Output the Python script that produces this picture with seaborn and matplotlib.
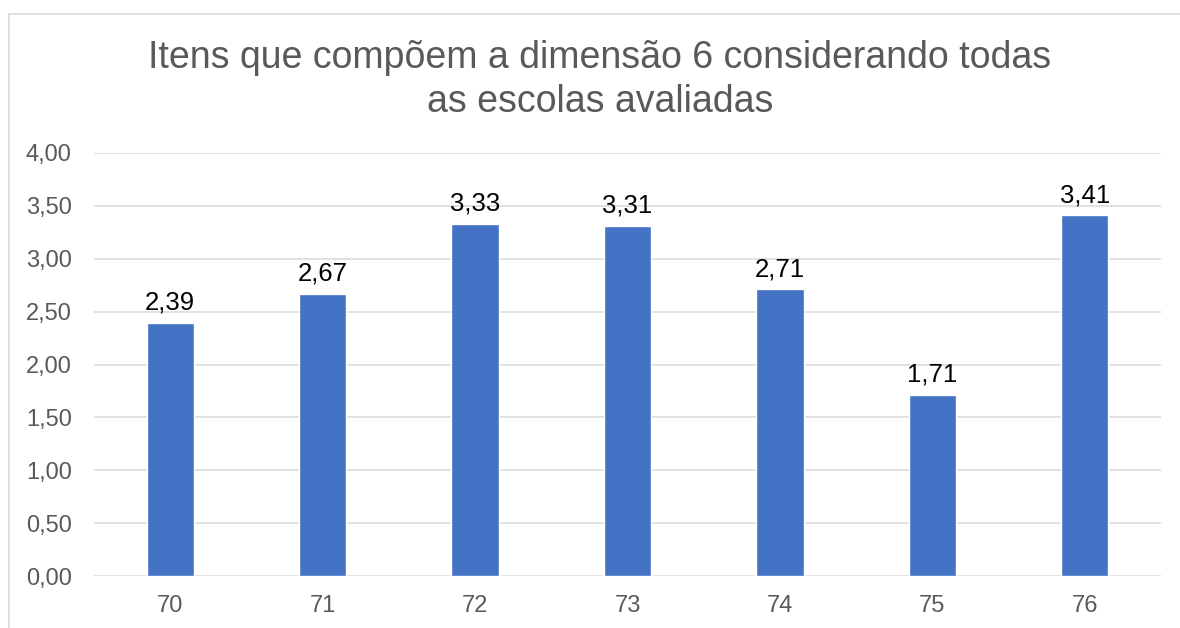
import matplotlib
matplotlib.use("Agg")
import matplotlib.pyplot as plt
from matplotlib.patches import Rectangle
from matplotlib.ticker import FuncFormatter
import seaborn as sns

# Average score per item of dimension 6
itens = ["70", "71", "72", "73", "74", "75", "76"]
medias = [2.39, 2.67, 3.33, 3.31, 2.71, 1.71, 3.41]
y_ticks = [0.0, 0.5, 1.0, 1.5, 2.0, 2.5, 3.0, 3.5, 4.0]

titulo = "Itens que compõem a dimensão 6 considerando todas\nas escolas avaliadas"

sns.set_theme(style="white")
plt.rcParams["font.family"] = ["Liberation Sans", "DejaVu Sans"]

BAR = "#4472C4"
GRID = "#D9D9D9"
TXT = "#595959"

fig = plt.figure(figsize=(11.8, 6.28), dpi=100)
fig.patch.set_facecolor("white")
ax = fig.add_axes([94 / 1180, 1 - 576 / 628, (1161 - 94) / 1180, (576 - 153) / 628])

sns.barplot(x=itens, y=medias, color=BAR, saturation=1, width=0.31, ax=ax)

ax.set_ylim(0, 4)
ax.set_yticks(y_ticks)
ax.yaxis.set_major_formatter(FuncFormatter(lambda v, _: f"{v:.2f}".replace(".", ",")))
ax.set_xlim(-0.5, len(itens) - 0.5)
ax.grid(axis="y", color=GRID, linewidth=1.1)
ax.grid(axis="x", visible=False)
ax.set_axisbelow(True)
for s in ax.spines.values():
    s.set_visible(False)
ax.tick_params(axis="y", length=0, pad=16, labelsize=17, labelcolor=TXT)
ax.tick_params(axis="x", length=0, pad=14, labelsize=17, labelcolor=TXT)
ax.set_xlabel("")
ax.set_ylabel("")

rotulos = [f"{v:.2f}".replace(".", ",") for v in medias]
ax.bar_label(ax.containers[0], labels=rotulos, padding=6, fontsize=18.5, color="black")

fig.text(600 / 1180, 1 - 80 / 628, titulo, ha="center", va="center",
         fontsize=27, color=TXT, linespacing=1.25)

# Chart frame
fig.patches.append(Rectangle((9 / 1180, -0.1), 1.2, 1.1 - 14 / 628,
                             transform=fig.transFigure, fill=False,
                             edgecolor=GRID, linewidth=1.2, figure=fig))

fig.savefig("out.png", dpi=100, facecolor="white")
